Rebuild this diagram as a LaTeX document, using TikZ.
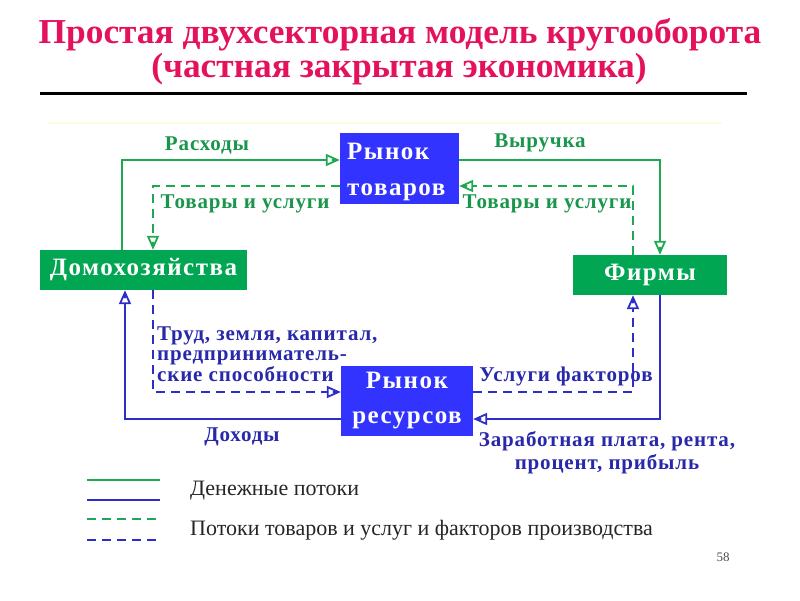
\documentclass[tikz,border=0pt]{standalone}
\usepackage{fontspec}
\setmainfont{Liberation Serif}
\newfontfamily\lblfont[LetterSpace=4]{Liberation Serif}
\newfontfamily\boxfont[LetterSpace=6]{Liberation Serif}
\usetikzlibrary{arrows.meta,calc}
\definecolor{titlered}{RGB}{228,18,92}
\definecolor{boxgreen}{RGB}{0,166,81}
\definecolor{boxblue}{RGB}{51,51,255}
\definecolor{lgreen}{RGB}{30,168,80}
\definecolor{lblue}{RGB}{45,45,200}
\definecolor{tgreen}{RGB}{25,150,75}
\definecolor{tblue}{RGB}{40,40,170}
\definecolor{paleyellow}{RGB}{252,252,225}
\tikzset{
  box/.style={inner sep=0pt, text=white, font=\fontsize{25}{30}\boxfont\bfseries},
  gbox/.style={box, fill=boxgreen},
  bbox/.style={box, fill=boxblue},
  tip/.style={-{Circle[length=4pt, sep=-10pt] Triangle[open, length=14pt, width=12pt, line width=1.8pt]}},
  gline/.style={draw=lgreen, line width=2.4pt, tip},
  bline/.style={draw=lblue, line width=2.4pt, tip},
  gdash/.style={gline, dash pattern=on 9pt off 6pt},
  bdash/.style={bline, dash pattern=on 9pt off 6pt},
  glabel/.style={text=tgreen, inner sep=0pt, font=\fontsize{21}{24}\lblfont\bfseries},
  blabel/.style={text=tblue, inner sep=0pt, font=\fontsize{21}{24}\lblfont\bfseries},
  legtext/.style={text=black!85, inner sep=0pt, anchor=west, font=\fontsize{22}{24}\selectfont},
  titletext/.style={text=titlered, inner sep=0pt, anchor=base, font=\fontsize{35}{40}\selectfont\bfseries},
}
\begin{document}
\begin{tikzpicture}[x=1pt,y=-1pt]
\useasboundingbox (0,0) rectangle (800,600);
% title
\node[titletext] (t1) at (400,43) {\scalebox{1.01}[1]{Простая двухсекторная модель кругооборота}};
\node[titletext] (t2) at (399,77) {\scalebox{1.01}[1]{(частная закрытая экономика)}};
\draw[line width=3pt] (40,93) -- (747,93);
\draw[paleyellow, line width=1.5pt] (48,123) -- (722,123);
% boxes
\node[bbox, minimum width=119pt, minimum height=71pt] (rt) at (399.5,168.5) {};
\node[text=white, inner sep=0pt, anchor=west, align=left, font=\fontsize{25}{36}\boxfont\bfseries] (rtt) at (347,172) {Рынок\\товаров};
\node[gbox, minimum width=207pt, minimum height=40pt] (hh) at (143.5,270) {Домохозяйства};
\node[gbox, minimum width=154pt, minimum height=40pt] (ff) at (650,275) {Фирмы};
\node[bbox, minimum width=132pt, minimum height=70pt, align=center, font=\fontsize{25}{35}\boxfont\bfseries] (rr) at (407,401) {Рынок\\ресурсов};
% helper coordinates
\coordinate (xa) at (122,160);
\coordinate (xb) at (153,186);
\coordinate (xc) at (660,160);
\coordinate (xd) at (633,186);
\coordinate (xe) at (125,419);
\coordinate (xf) at (153,392);
\coordinate (xg) at (633,392);
\coordinate (xh) at (660,419);
% green flows
\draw[gline] (hh.north -| xa) |- (rt.west |- xa);
\draw[gline] (rt.east |- xc) -| (ff.north -| xc);
\draw[gdash] (ff.north -| xd) |- (rt.east |- xd);
\draw[gdash] (rt.west |- xb) -| (hh.north -| xb);
% blue flows
\draw[bline] (rr.west |- xe) -| (hh.south -| xe);
\draw[bdash] (hh.south -| xf) |- (rr.west |- xf);
\draw[bdash] (rr.east |- xg) -| (ff.south -| xg);
\draw[bline] (ff.south -| xh) |- (rr.east |- xh);
% labels
\node[glabel] (l1) at (207,145) {Расходы};
\node[glabel] (l2) at (540,143) {Выручка};
\node[glabel] (l3) at (245,204) {Товары и услуги};
\node[glabel] (l4) at (547,204) {Товары и услуги};
\node[blabel, anchor=west, align=left, font=\fontsize{21}{20.5}\lblfont\bfseries] (l5) at (157,354) {Труд, земля, капитал,\\предприниматель-\\ские способности};
\node[blabel] (l6) at (566,376) {Услуги факторов};
\node[blabel] (l7) at (242,437) {Доходы};
\node[blabel, align=center, font=\fontsize{21}{23}\lblfont\bfseries] (l8) at (607,453) {Заработная плата, рента,\\процент, прибыль};
% legend
\draw[lgreen, line width=2.4pt] (87,480) -- (160,480);
\draw[lblue, line width=2.4pt] (87,500) -- (160,500);
\draw[lgreen, line width=2.4pt, dash pattern=on 9pt off 6pt] (87,519) -- (160,519);
\draw[lblue, line width=2.4pt, dash pattern=on 9pt off 6pt] (87,540) -- (160,540);
\node[legtext] (g1) at (190,491) {Денежные потоки};
\node[legtext] (g2) at (190,530) {Потоки товаров и услуг и факторов производства};
\node[text=black!70, inner sep=0pt, font=\fontsize{13}{15}\selectfont] (pg) at (723,557) {58};
\end{tikzpicture}
\end{document}
